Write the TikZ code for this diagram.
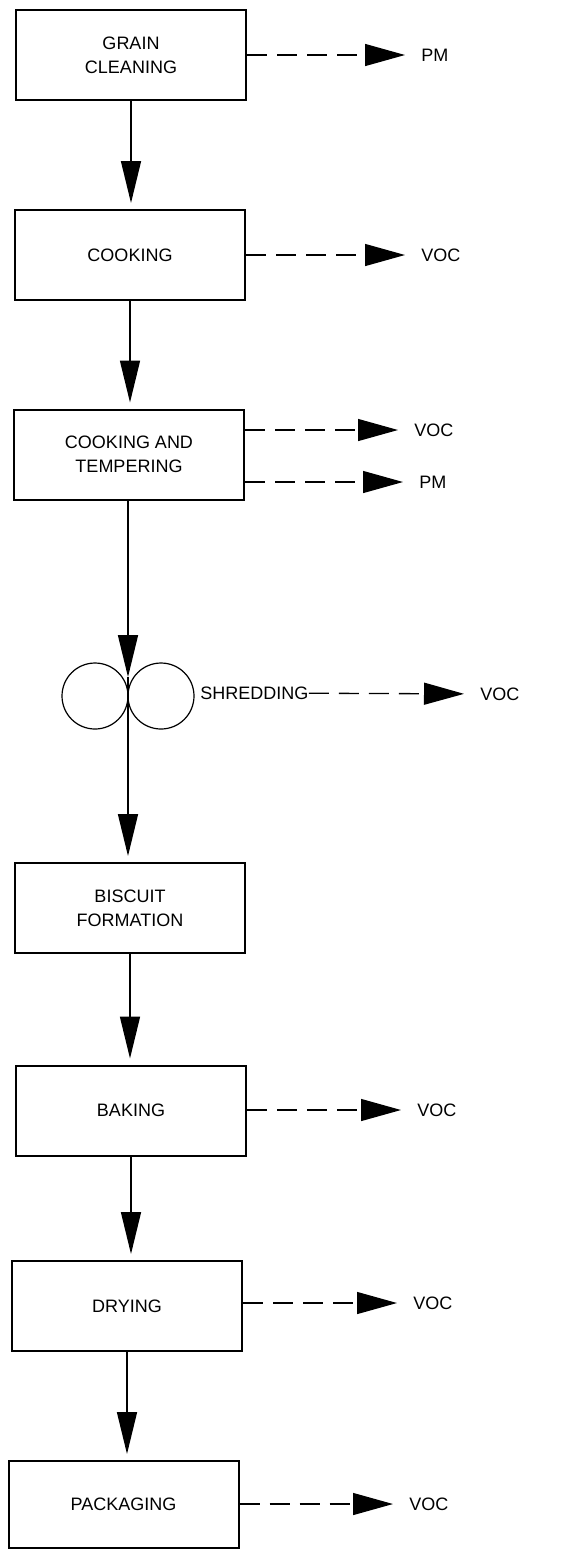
\documentclass[tikz,border=0pt]{standalone}
\usepackage{fontspec}
\setmainfont{Liberation Sans}
\usetikzlibrary{arrows.meta}
\begin{document}
\begin{tikzpicture}[x=0.5pt,y=-0.5pt,
  font=\fontsize{9}{12}\selectfont,
  stage/.style={draw,line width=1pt,minimum width=115pt,minimum height=45pt,align=center,inner sep=0pt},
  roll/.style={draw,circle,line width=0.6pt,minimum size=33pt,inner sep=0pt},
  flow/.style={-{Triangle[length=21pt,width=10pt]},line width=0.8pt,shorten >=3pt},
  vent/.style={-{Triangle[length=20pt,width=11pt]},line width=0.65pt,dash pattern=on 10pt off 5pt,shorten >=8pt},
  emis/.style={anchor=west,inner sep=0pt}]
\useasboundingbox (0,0) rectangle (569,1549);
%
\node[stage] (clean) at (131,55) {GRAIN\\CLEANING};
\node[stage] (cook) at (130,255) {COOKING};
\node[stage] (temper) at (129,454.5) {COOKING AND\\TEMPERING};
\node[roll] (rollL) at (95,696) {};
\node[roll] (rollR) at (161,696) {};
\node[emis] (shred) at (200,693) {SHREDDING};
\coordinate (nip) at (128,677);
\node[stage] (biscuit) at (130,908) {BISCUIT\\FORMATION};
\node[stage] (bake) at (131,1110.5) {BAKING};
\node[stage] (dry) at (127,1306) {DRYING};
\node[stage,minimum height=43.5pt] (pack) at (123.5,1504.5) {PACKAGING};
%
\node[emis] (pm1) at (421,55) {PM};
\node[emis] (voc2) at (421,255) {VOC};
\node[emis] (voc3) at (414,430) {VOC};
\node[emis] (pm3) at (419,482) {PM};
\node[emis] (voc4) at (480,694) {VOC};
\node[emis] (voc5) at (417,1110) {VOC};
\node[emis] (voc6) at (413,1303) {VOC};
\node[emis] (voc7) at (409,1504) {VOC};
%
\draw[flow] (clean.south) -- (clean.south |- cook.north);
\draw[flow] (cook.south) -- (cook.south |- temper.north);
\draw[flow,shorten >=0pt] (nip |- temper.south) -- (nip);
\draw[flow] (nip) -- (nip |- biscuit.north);
\draw[flow] (biscuit.south) -- (biscuit.south |- bake.north);
\draw[flow] (bake.south) -- (bake.south |- dry.north);
\draw[flow] (dry.south) -- (dry.south |- pack.north);
%
\draw[vent] (clean.east |- pm1) -- (pm1);
\draw[vent] (cook.east |- voc2) -- (voc2);
\draw[vent] (temper.east |- voc3) -- (voc3);
\draw[vent] (temper.east |- pm3) -- (pm3);
\draw[vent] (shred) -- (voc4);
\draw[vent] (bake.east |- voc5) -- (voc5);
\draw[vent] (dry.east |- voc6) -- (voc6);
\draw[vent] (pack.east |- voc7) -- (voc7);
\end{tikzpicture}
\end{document}
